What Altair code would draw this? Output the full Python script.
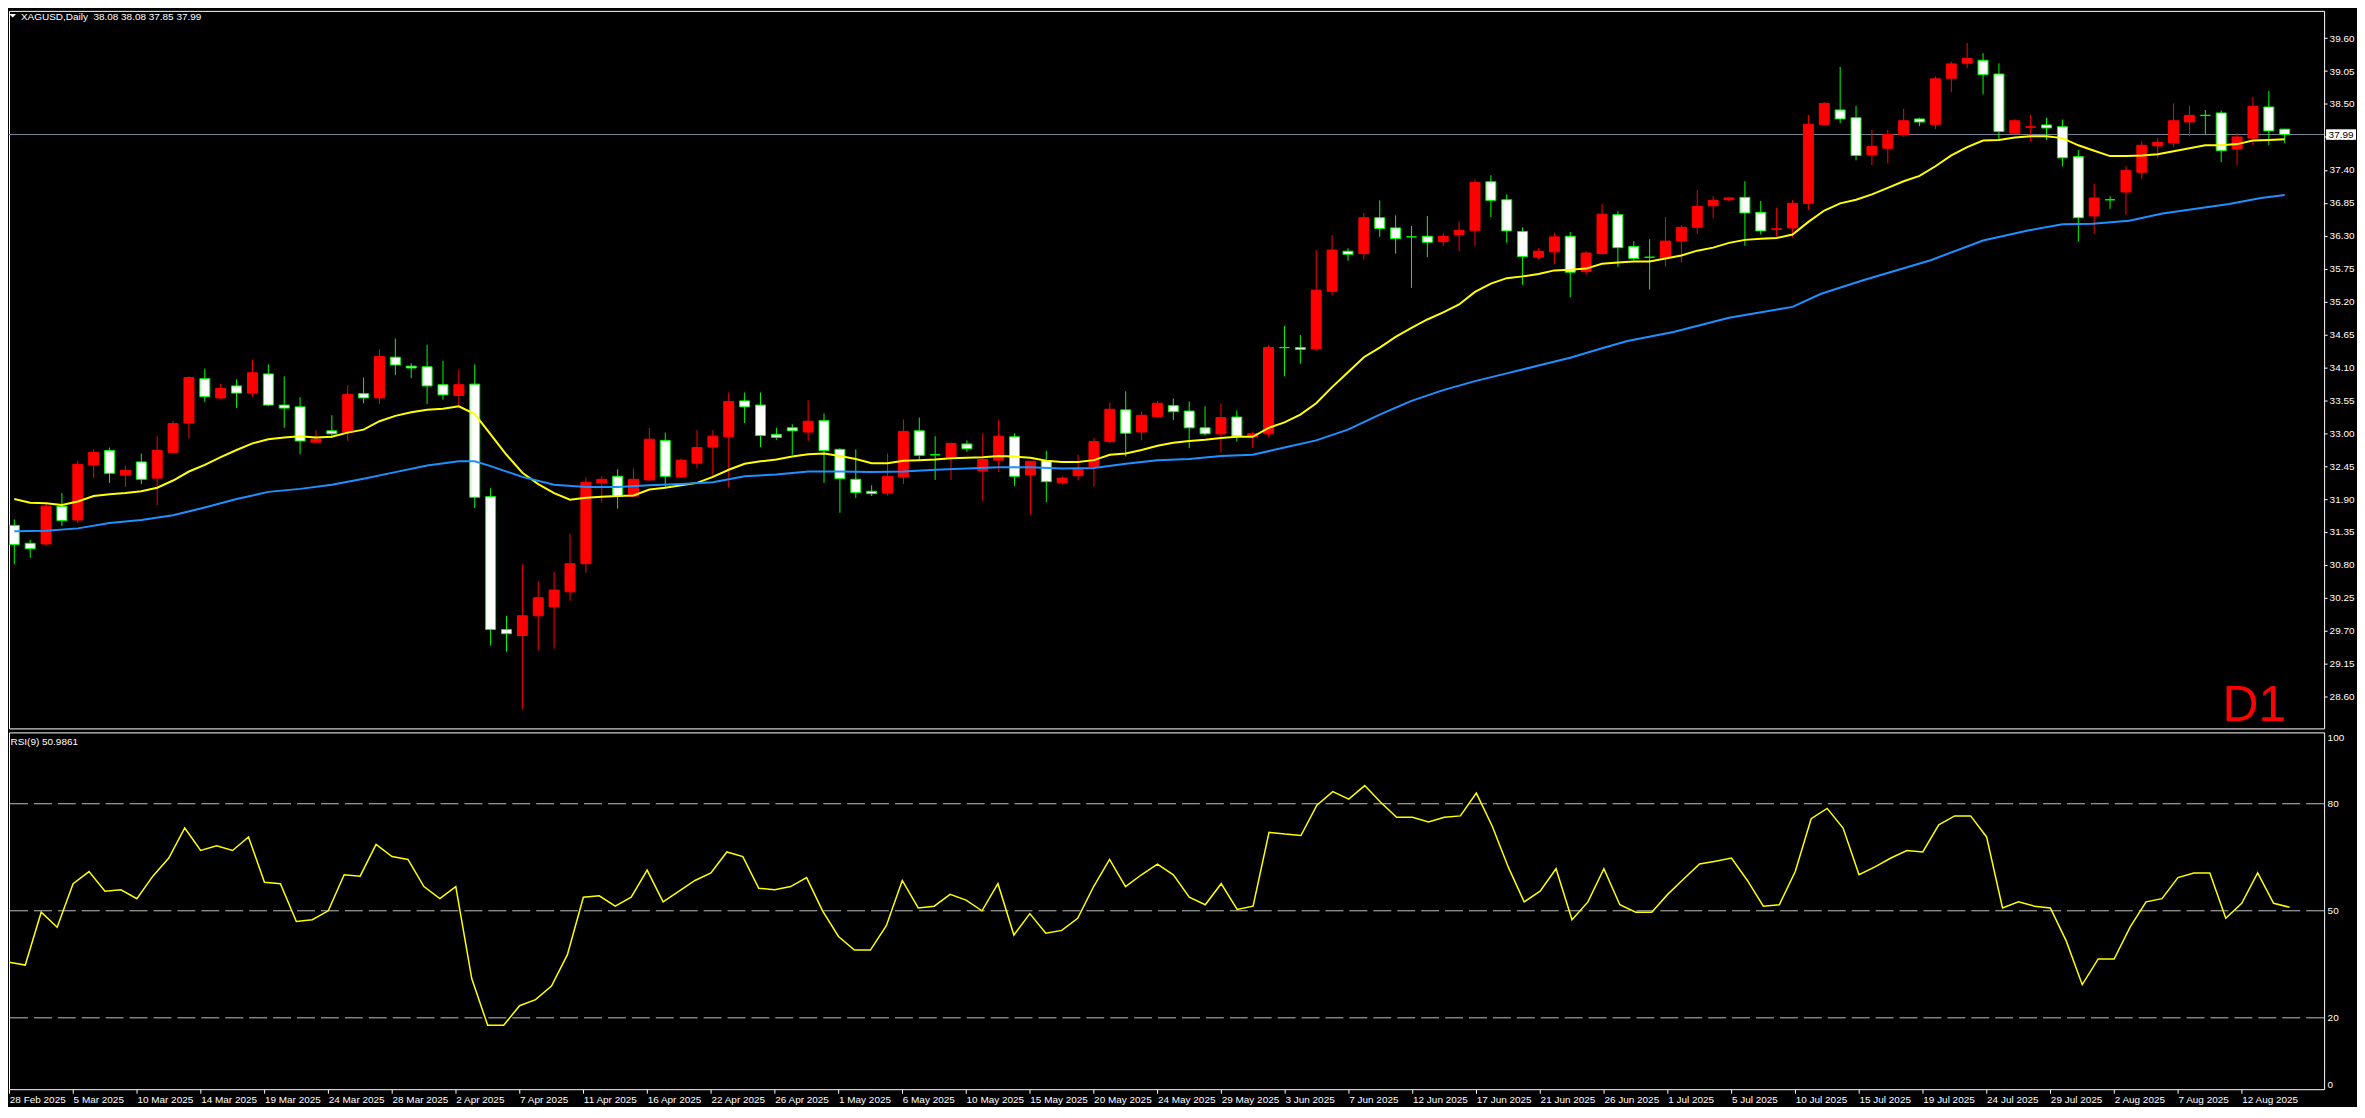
import altair as alt
import pandas as pd

# ---------------- data ----------------
opens = [31.46, 31.16, 31.15, 31.78, 31.55, 32.47, 32.71, 32.30, 32.52, 32.25,
         32.68, 33.17, 33.91, 33.59, 33.79, 33.67, 33.99, 33.47, 33.44, 32.85,
         33.04, 33.01, 33.66, 33.59, 34.27, 34.12, 34.11, 33.81, 33.63, 33.82,
         31.94, 29.72, 29.62, 29.95, 30.10, 30.35, 30.82, 32.17, 32.28, 31.95,
         32.22, 32.88, 32.27, 32.50, 32.77, 32.94, 33.54, 33.47, 32.98, 33.09,
         33.02, 33.21, 32.73, 32.23, 32.03, 32.00, 32.27, 33.04, 32.64, 32.60,
         32.82, 32.37, 32.55, 32.94, 32.30, 32.54, 32.17, 32.29, 32.44, 32.86,
         33.39, 33.02, 33.28, 33.46, 33.37, 33.09, 32.99, 33.27, 32.94, 32.99,
         34.43, 34.43, 34.41, 35.37, 36.04, 36.00, 36.60, 36.43, 36.28, 36.29,
         36.20, 36.32, 36.39, 37.20, 36.90, 36.37, 35.94, 36.03, 36.29, 35.70,
         36.00, 36.65, 36.12, 35.94, 35.93, 36.21, 36.44, 36.80, 36.90, 36.94,
         36.69, 36.405, 36.43, 36.84, 38.16, 38.40, 38.27, 37.65, 37.76, 37.99,
         38.25, 38.16, 38.93, 39.18, 39.23, 39.00, 38.01, 38.11, 38.15, 38.12,
         37.62, 36.63, 36.90, 37.03, 37.36, 37.80, 37.85, 38.20, 38.31, 38.35,
         37.75, 37.93, 38.45, 38.08]
highs = [31.56, 31.22, 31.83, 32.00, 32.54, 32.73, 32.76, 32.46, 32.66, 32.95,
         33.21, 33.95, 34.08, 33.83, 33.90, 34.23, 34.15, 33.95, 33.60, 33.05,
         33.30, 33.80, 33.93, 34.40, 34.58, 34.17, 34.48, 34.21, 34.06, 34.15,
         32.08, 29.95, 30.81, 30.53, 30.68, 31.32, 32.26, 32.28, 32.40, 32.41,
         33.09, 33.01, 32.58, 33.05, 33.05, 33.68, 33.68, 33.68, 33.09, 33.15,
         33.55, 33.33, 32.75, 32.73, 32.13, 32.66, 33.23, 33.26, 32.95, 32.83,
         32.88, 33.00, 33.23, 33.00, 32.53, 32.71, 32.28, 32.64, 32.92, 33.51,
         33.70, 33.36, 33.54, 33.58, 33.53, 33.45, 33.50, 33.38, 33.03, 34.47,
         34.79, 34.64, 36.06, 36.31, 36.09, 36.68, 36.89, 36.64, 36.46, 36.63,
         36.34, 36.54, 37.24, 37.31, 36.99, 36.44, 36.09, 36.35, 36.36, 36.04,
         36.83, 36.71, 36.21, 36.24, 36.61, 36.48, 37.06, 36.96, 36.95, 37.21,
         36.88, 36.77, 36.89, 38.32, 38.53, 39.12, 38.47, 38.07, 38.07, 38.42,
         38.27, 38.96, 39.21, 39.52, 39.35, 39.18, 38.25, 38.32, 38.27, 38.24,
         37.73, 37.17, 36.96, 37.46, 37.88, 37.93, 38.51, 38.47, 38.40, 38.39,
         38.01, 38.62, 38.72, 38.08]
lows = [30.81, 30.92, 31.12, 31.45, 31.50, 32.25, 32.17, 32.10, 32.15, 31.80,
        32.67, 32.91, 33.52, 33.57, 33.42, 33.61, 33.45, 33.09, 32.65, 32.85,
        32.92, 32.87, 33.50, 33.49, 33.97, 33.92, 33.49, 33.56, 33.47, 31.75,
        29.45, 29.35, 28.39, 29.37, 29.40, 30.20, 30.67, 31.84, 31.74, 31.95,
        32.20, 32.09, 32.26, 32.42, 32.25, 32.09, 33.17, 32.77, 32.89, 32.64,
        32.87, 32.17, 31.67, 31.92, 31.95, 31.96, 32.15, 32.56, 32.22, 32.22,
        32.69, 31.86, 32.35, 32.12, 31.64, 31.85, 32.14, 32.21, 32.11, 32.83,
        32.61, 32.88, 33.26, 33.22, 32.75, 32.96, 32.68, 32.86, 32.75, 32.94,
        33.95, 34.16, 34.38, 35.30, 35.88, 35.90, 36.28, 36.00, 35.43, 35.94,
        36.13, 36.04, 36.13, 36.61, 36.18, 35.48, 35.91, 35.83, 35.27, 35.65,
        35.99, 35.78, 35.89, 35.40, 35.78, 35.85, 36.33, 36.60, 36.88, 36.13,
        36.32, 36.28, 36.28, 36.73, 38.14, 38.18, 37.56, 37.48, 37.51, 37.95,
        38.13, 38.08, 38.70, 39.10, 38.66, 37.90, 38.00, 37.88, 37.90, 37.46,
        36.20, 36.33, 36.75, 36.65, 37.25, 37.60, 37.78, 37.96, 37.99, 37.53,
        37.48, 37.81, 37.81, 37.85]
closes = [31.14, 31.07, 31.78, 31.54, 32.48, 32.68, 32.33, 32.38, 32.23, 32.71,
          33.16, 33.93, 33.61, 33.75, 33.67, 34.01, 33.47, 33.42, 32.87, 32.90,
          32.99, 33.65, 33.59, 34.28, 34.14, 34.09, 33.79, 33.64, 33.81, 31.93,
          29.72, 29.65, 29.95, 30.25, 30.38, 30.82, 32.18, 32.23, 31.95, 32.23,
          32.90, 32.28, 32.55, 32.76, 32.95, 33.53, 33.44, 32.96, 32.93, 33.04,
          33.20, 32.71, 32.24, 32.01, 31.99, 32.28, 33.03, 32.63, 32.64, 32.83,
          32.74, 32.56, 32.95, 32.28, 32.53, 32.19, 32.25, 32.40, 32.86, 33.40,
          33.00, 33.30, 33.50, 33.36, 33.09, 32.99, 33.26, 32.95, 32.99, 34.43,
          34.43, 34.40, 35.39, 36.06, 35.99, 36.60, 36.42, 36.25, 36.28, 36.19,
          36.29, 36.39, 37.19, 36.89, 36.38, 35.95, 36.04, 36.28, 35.69, 36.01,
          36.66, 36.10, 35.92, 35.94, 36.21, 36.44, 36.79, 36.89, 36.93, 36.68,
          36.38, 36.415, 36.84, 38.16, 38.51, 38.25, 37.64, 37.79, 37.99, 38.22,
          38.20, 38.92, 39.17, 39.26, 38.99, 38.04, 38.22, 38.12, 38.10, 37.60,
          36.60, 36.93, 36.90, 37.39, 37.81, 37.86, 38.22, 38.31, 38.31, 37.72,
          37.95, 38.46, 38.05, 37.99]
fast_ma = [31.90, 31.84, 31.83, 31.80, 31.86, 31.95, 31.98, 32.00, 32.03, 32.09,
           32.21, 32.36, 32.47, 32.60, 32.72, 32.83, 32.90, 32.93, 32.95, 32.93,
           32.94, 33.01, 33.06, 33.20, 33.29, 33.35, 33.39, 33.41, 33.45, 33.32,
           32.98, 32.64, 32.34, 32.15, 32.00, 31.89, 31.92, 31.94, 31.95, 31.96,
           32.06, 32.09, 32.13, 32.17, 32.27, 32.39, 32.49, 32.53, 32.56, 32.61,
           32.65, 32.66, 32.62, 32.57, 32.50, 32.50, 32.54, 32.55, 32.56, 32.58,
           32.59, 32.60, 32.62, 32.61, 32.59, 32.54, 32.52, 32.52, 32.55, 32.64,
           32.66, 32.72, 32.79, 32.84, 32.87, 32.89, 32.92, 32.94, 32.94, 33.09,
           33.18, 33.31, 33.50, 33.77, 34.02, 34.27, 34.43, 34.61, 34.76, 34.90,
           35.02, 35.15, 35.36, 35.50, 35.59, 35.62, 35.66, 35.72, 35.73, 35.75,
           35.83, 35.85, 35.87, 35.87, 35.92, 35.97, 36.05, 36.10, 36.18, 36.23,
           36.25, 36.26, 36.32, 36.53, 36.72, 36.84, 36.90, 36.99, 37.10, 37.21,
           37.30, 37.46, 37.64, 37.78, 37.89, 37.90, 37.94, 37.96, 37.96, 37.93,
           37.81, 37.72, 37.63, 37.63, 37.64, 37.66, 37.71, 37.76, 37.81, 37.81,
           37.83, 37.89, 37.90, 37.91]
slow_ma_bar = [0, 2, 4, 6, 8, 10, 12, 14, 16, 18, 20, 22, 24, 26, 28, 29, 30, 32,
               34, 36, 38, 40, 42, 44, 46, 48, 50, 52, 54, 56, 58, 60, 62, 64,
               66, 68, 70, 72, 74, 76, 78, 80, 82, 84, 86, 88, 90, 92, 94, 96,
               98, 100, 101.6, 104.5, 108, 112, 113.8, 116.5, 120.7, 124, 126.9,
               129, 130.9, 133.2, 135.3, 137.4, 139.5, 141.5, 143]
slow_ma = [31.36, 31.37, 31.41, 31.50, 31.55, 31.63, 31.76, 31.90, 32.02, 32.07,
           32.14, 32.24, 32.35, 32.46, 32.53, 32.53, 32.45, 32.27, 32.14, 32.10,
           32.10, 32.13, 32.15, 32.18, 32.28, 32.31, 32.36, 32.36, 32.35, 32.36,
           32.39, 32.41, 32.43, 32.43, 32.41, 32.42, 32.49, 32.55, 32.57, 32.62,
           32.64, 32.76, 32.88, 33.06, 33.31, 33.54, 33.72, 33.87, 34.00, 34.13,
           34.26, 34.42, 34.54, 34.69, 34.93, 35.11, 35.33, 35.56, 35.89, 36.22,
           36.39, 36.49, 36.50, 36.55, 36.67, 36.75, 36.83, 36.93, 36.98]
rsi9 = [35.6, 34.8, 49.6, 45.4, 57.6, 61.0, 55.5, 55.9, 53.4, 59.7,
        64.8, 73.2, 66.9, 68.2, 66.9, 70.7, 58.0, 57.6, 47.0, 47.5,
        50.0, 60.1, 59.7, 68.6, 65.2, 64.4, 56.8, 53.4, 56.8, 31.0,
        17.9, 17.9, 23.4, 25.1, 28.9, 37.7, 53.8, 54.2, 51.3, 53.8,
        61.4, 52.5, 55.5, 58.5, 60.6, 66.5, 65.2, 56.3, 55.9, 56.8,
        59.3, 50.0, 42.8, 39.0, 39.0, 45.8, 58.5, 50.8, 51.3, 54.6,
        53.0, 50.0, 57.6, 43.2, 49.2, 43.7, 44.5, 47.9, 56.8, 64.4,
        56.8, 60.1, 63.1, 60.1, 53.8, 51.7, 57.6, 50.4, 51.3, 72.0,
        71.5, 71.1, 79.6, 83.4, 81.3, 85.1, 80.4, 76.2, 76.2, 74.9,
        76.2, 76.6, 83.0, 73.7, 62.3, 52.5, 55.5, 61.8, 47.5, 52.5,
        61.8, 51.7, 49.6, 49.6, 54.6, 58.9, 63.1, 63.9, 64.8, 58.5,
        51.3, 51.7, 61.0, 75.8, 78.7, 73.2, 60.1, 62.3, 64.8, 66.9,
        66.5, 74.1, 76.6, 76.6, 70.7, 50.8, 52.5, 51.3, 50.8, 41.5,
        29.3, 36.5, 36.5, 45.4, 52.5, 53.4, 59.3, 60.6, 60.6, 47.9,
        52.1, 60.6, 52.1, 50.99]
date_labels = ["28 Feb 2025", "5 Mar 2025", "10 Mar 2025", "14 Mar 2025", "19 Mar 2025",
               "24 Mar 2025", "28 Mar 2025", "2 Apr 2025", "7 Apr 2025", "11 Apr 2025",
               "16 Apr 2025", "22 Apr 2025", "26 Apr 2025", "1 May 2025", "6 May 2025",
               "10 May 2025", "15 May 2025", "20 May 2025", "24 May 2025", "29 May 2025",
               "3 Jun 2025", "7 Jun 2025", "12 Jun 2025", "17 Jun 2025", "21 Jun 2025",
               "26 Jun 2025", "1 Jul 2025", "5 Jul 2025", "10 Jul 2025", "15 Jul 2025",
               "19 Jul 2025", "24 Jul 2025", "29 Jul 2025", "2 Aug 2025", "7 Aug 2025",
               "12 Aug 2025"]
price_ticks = [28.05, 28.60, 29.15, 29.70, 30.25, 30.80, 31.35, 31.90, 32.45, 33.00,
               33.55, 34.10, 34.65, 35.20, 35.75, 36.30, 36.85, 37.40, 37.95, 38.50,
               39.05, 39.60]
rsi_ticks = [0, 20, 50, 80, 100]
rsi_levels = [20, 50, 80]
last_price = 37.99
header_text = "XAGUSD,Daily\u00a0 38.08 38.08 37.85 37.99"
rsi_text = "RSI(9) 50.9861"
tf_text = "D1"

# ---------------- layout ----------------
FONT = "Liberation Sans"
W = 2323
H_MAIN = 720
H_RSI = 358
BAR_PX = 16
X_DOMAIN = [-0.02, -0.02 + W / BAR_PX]
Y_DOMAIN = [28.068, 40.056]

n = len(closes)
df = pd.DataFrame({
    "i": list(range(n)), "open": opens, "high": highs, "low": lows,
    "close": closes, "ma": fast_ma, "rsi": rsi9,
})
df["dir"] = ["up" if c > o else "down" for o, c in zip(opens, closes)]
slow_df = pd.DataFrame({"bi": slow_ma_bar, "bv": slow_ma})
last_df = pd.DataFrame({"p": [last_price]})
one = pd.DataFrame({"k": [0]})
lv_df = pd.DataFrame({"lv": rsi_levels})

xs = alt.Scale(domain=X_DOMAIN, nice=False, zero=False)
ys = alt.Scale(domain=Y_DOMAIN, nice=False, zero=False)
rs = alt.Scale(domain=[0, 100], nice=False, zero=False)
dir_stroke = alt.Scale(domain=["up", "down"], range=["#ff0000", "#00ff00"])
dir_fill = alt.Scale(domain=["up", "down"], range=["#ff0000", "#ffffff"])

price_axis = alt.Axis(orient="right", values=price_ticks, tickCount=len(price_ticks) + 10,
                      format=".2f", title=None,
                      grid=False, domain=False, ticks=True, tickSize=3, tickColor="white",
                      labelColor="white", labelFont=FONT, labelFontSize=10, labelPadding=2,
                      labelOverlap=False, labelFlush=False, labelBound=False)

price_line = alt.Chart(last_df).mark_rule(color="#778899", strokeWidth=1).encode(
    y=alt.Y("p:Q", scale=ys, axis=price_axis))
wick = alt.Chart(df).mark_rule(strokeWidth=1, clip=True).encode(
    x=alt.X("i:Q", scale=xs, axis=None),
    y=alt.Y("low:Q", scale=ys),
    y2="high:Q",
    color=alt.Color("dir:N", scale=dir_stroke, legend=None))
body = alt.Chart(df).mark_bar(size=10, strokeWidth=1, clip=True).encode(
    x=alt.X("i:Q", scale=xs, axis=None),
    y=alt.Y("open:Q", scale=ys),
    y2="close:Q",
    fill=alt.Fill("dir:N", scale=dir_fill, legend=None),
    stroke=alt.Stroke("dir:N", scale=dir_stroke, legend=None))
fast_line = alt.Chart(df).mark_line(color="#ffff00", strokeWidth=2, clip=True).encode(
    x=alt.X("i:Q", scale=xs, axis=None), y=alt.Y("ma:Q", scale=ys))
slow_line = alt.Chart(slow_df).mark_line(color="#1e90ff", strokeWidth=2, clip=True).encode(
    x=alt.X("bi:Q", scale=xs, axis=None), y=alt.Y("bv:Q", scale=ys))
box = alt.Chart(last_df).mark_point(
    shape="M-1,-0.35L1,-0.35L1,0.35L-1,0.35Z", size=900, filled=True,
    color="white", opacity=1, strokeWidth=0).encode(
    x=alt.value(W + 17), y=alt.Y("p:Q", scale=ys))
box_text = alt.Chart(last_df).mark_text(
    color="black", font=FONT, fontSize=10, align="center", baseline="middle").encode(
    x=alt.value(W + 17), y=alt.Y("p:Q", scale=ys), text=alt.Text("p:Q", format=".2f"))
tri = alt.Chart(one).mark_point(
    shape="M-1,-0.5L1,-0.5L0,0.5Z", size=49, filled=True, color="white",
    opacity=1, strokeWidth=0).encode(x=alt.value(3.7), y=alt.value(4.8))
header = alt.Chart(one).mark_text(
    text=header_text, color="white", font=FONT, fontSize=10, align="left",
    baseline="alphabetic").encode(x=alt.value(12), y=alt.value(8.8))
tf = alt.Chart(one).mark_text(
    text=tf_text, color="#ff0000", font=FONT, fontSize=50, align="right",
    baseline="alphabetic").encode(x=alt.value(2285), y=alt.value(713))

main = alt.layer(price_line, wick, body, fast_line, slow_line, box, box_text,
                 tri, header, tf).properties(width=W, height=H_MAIN)

label_expr = "[" + ",".join("'%s'" % d for d in date_labels) + "][round(datum.value/4)]"
date_axis = alt.Axis(values=list(range(0, 4 * len(date_labels), 4)),
                     tickCount=len(date_labels) + 10, labelExpr=label_expr,
                     orient="bottom", title=None, grid=False, domain=False, tickSize=4,
                     tickColor="white", labelColor="white", labelFont=FONT, labelFontSize=10,
                     labelAlign="left", labelBaseline="top", labelPadding=1,
                     labelOverlap=False, labelBound=False, labelFlush=False)
rsi_axis = alt.Axis(orient="right", values=rsi_ticks, tickCount=10, title=None, grid=False,
                    domain=False, ticks=False, labelPadding=3, labelColor="white", labelFont=FONT,
                    labelFontSize=10, labelFlush=True, labelOverlap=False)

levels = alt.Chart(lv_df).mark_rule(color="#c0c0c0", strokeDash=[18, 6], strokeWidth=1).encode(
    y=alt.Y("lv:Q", scale=rs, axis=rsi_axis))
rsi_line = alt.Chart(df).mark_line(color="#ffff00", strokeWidth=1.5, clip=True).encode(
    x=alt.X("i:Q", scale=xs, axis=date_axis), y=alt.Y("rsi:Q", scale=rs))
rsi_lbl = alt.Chart(one).mark_text(
    text=rsi_text, color="white", font=FONT, fontSize=10, align="left",
    baseline="alphabetic").encode(x=alt.value(1.5), y=alt.value(13))

rsi_panel = alt.layer(levels, rsi_line, rsi_lbl).properties(width=W, height=H_RSI)

chart = alt.vconcat(main, rsi_panel, spacing=4, bounds="flush").resolve_scale(
    x="independent", y="independent"
).properties(background="black", padding=0).configure_view(stroke="white", strokeWidth=1)

chart.save("out.html", embed_options={"renderer": "svg", "actions": False})
